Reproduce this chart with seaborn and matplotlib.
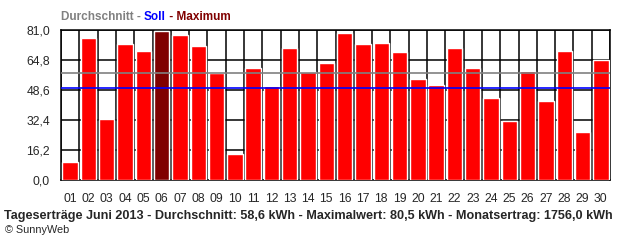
import matplotlib
matplotlib.use("Agg")
import matplotlib.pyplot as plt
import seaborn as sns
import numpy as np
import pandas as pd

days = ["01","02","03","04","05","06","07","08","09","10",
        "11","12","13","14","15","16","17","18","19","20",
        "21","22","23","24","25","26","27","28","29","30"]
values = [9.9, 76.9, 33.1, 73.6, 69.8, 80.5, 78.5, 72.5, 57.8, 14.2,
          60.7, 50.9, 71.5, 58.5, 63.4, 79.6, 73.6, 74.2, 69.3, 54.7,
          51.5, 71.5, 60.7, 44.5, 32.2, 59.0, 42.8, 69.8, 26.1, 65.0]
yticks = [0.0, 16.2, 32.4, 48.6, 64.8, 81.0]
ytick_labels = ["0,0", "16,2", "32,4", "48,6", "64,8", "81,0"]
avg_line = 57.8
soll_line = 49.7
footer = "Tageserträge Juni 2013 - Durchschnitt: 58,6 kWh - Maximalwert: 80,5 kWh - Monatsertrag: 1756,0 kWh"

sns.set_style("white")
plt.rcParams['font.family'] = ['Liberation Sans', 'DejaVu Sans']

df = pd.DataFrame({"day": days, "value": values})
maxv = max(values)
palette = {d: ("#800000" if v == maxv else "#FF0000") for d, v in zip(days, values)}

fig = plt.figure(figsize=(6.4, 2.4), dpi=100)
ax = fig.add_axes([61/640, (240-180.3)/240, (610-61)/640, 150/240])

sns.barplot(data=df, x="day", y="value", hue="day", palette=palette,
            legend=False, width=0.84, ax=ax, zorder=3, saturation=1)

ax.set_xlim(-0.5, len(days)-0.5)
ax.set_ylim(0, 81.0)

lw = 1.1
ax.set_yticks(yticks)
ax.set_yticklabels(ytick_labels, fontsize=8.7)
for y in yticks:
    ax.axhline(y, color="black", lw=lw, zorder=1)
bounds = np.arange(len(days)+1) - 0.5
for b in bounds:
    ax.axvline(b, color="black", lw=lw, zorder=1)
ax.set_xticks(np.arange(len(days)))
ax.set_xticklabels(days, fontsize=8.7)
ax.set_xticks(bounds, minor=True)
ax.tick_params(axis="x", which="major", length=0, pad=9)
ax.tick_params(axis="x", which="minor", length=5, width=lw, color="black", direction="out")
ax.tick_params(axis="y", which="major", length=6, width=lw, color="black", direction="out", pad=2)

ax.axhline(avg_line, color="#808080", lw=1.2, zorder=4)
ax.axhline(soll_line, color="#0000FF", lw=1.2, zorder=4)

for s in ax.spines.values():
    s.set_color("black")
    s.set_linewidth(lw)
ax.set_xlabel("")
ax.set_ylabel("")

fx = 61/640
ty = 1 - 17/240
t1 = fig.text(fx, ty, "Durchschnitt - ", color="#808080", fontsize=8.5, fontweight="bold", va="center", ha="left")
fig.canvas.draw()
r = fig.canvas.get_renderer()
bb = t1.get_window_extent(r)
t2 = fig.text(bb.x1/640, ty, "Soll", color="#0000FF", fontsize=8.5, fontweight="bold", va="center", ha="left")
bb2 = t2.get_window_extent(r)
t3 = fig.text(bb2.x1/640, ty, " - Maximum", color="#800000", fontsize=8.5, fontweight="bold", va="center", ha="left")

fig.text(4/640, 1 - 216/240, footer, fontsize=9.1, fontweight="bold", va="center", ha="left")
fig.text(5/640, 1 - 230/240, "© SunnyWeb", fontsize=7.8, va="center", ha="left")

fig.savefig("out.png", dpi=100)
